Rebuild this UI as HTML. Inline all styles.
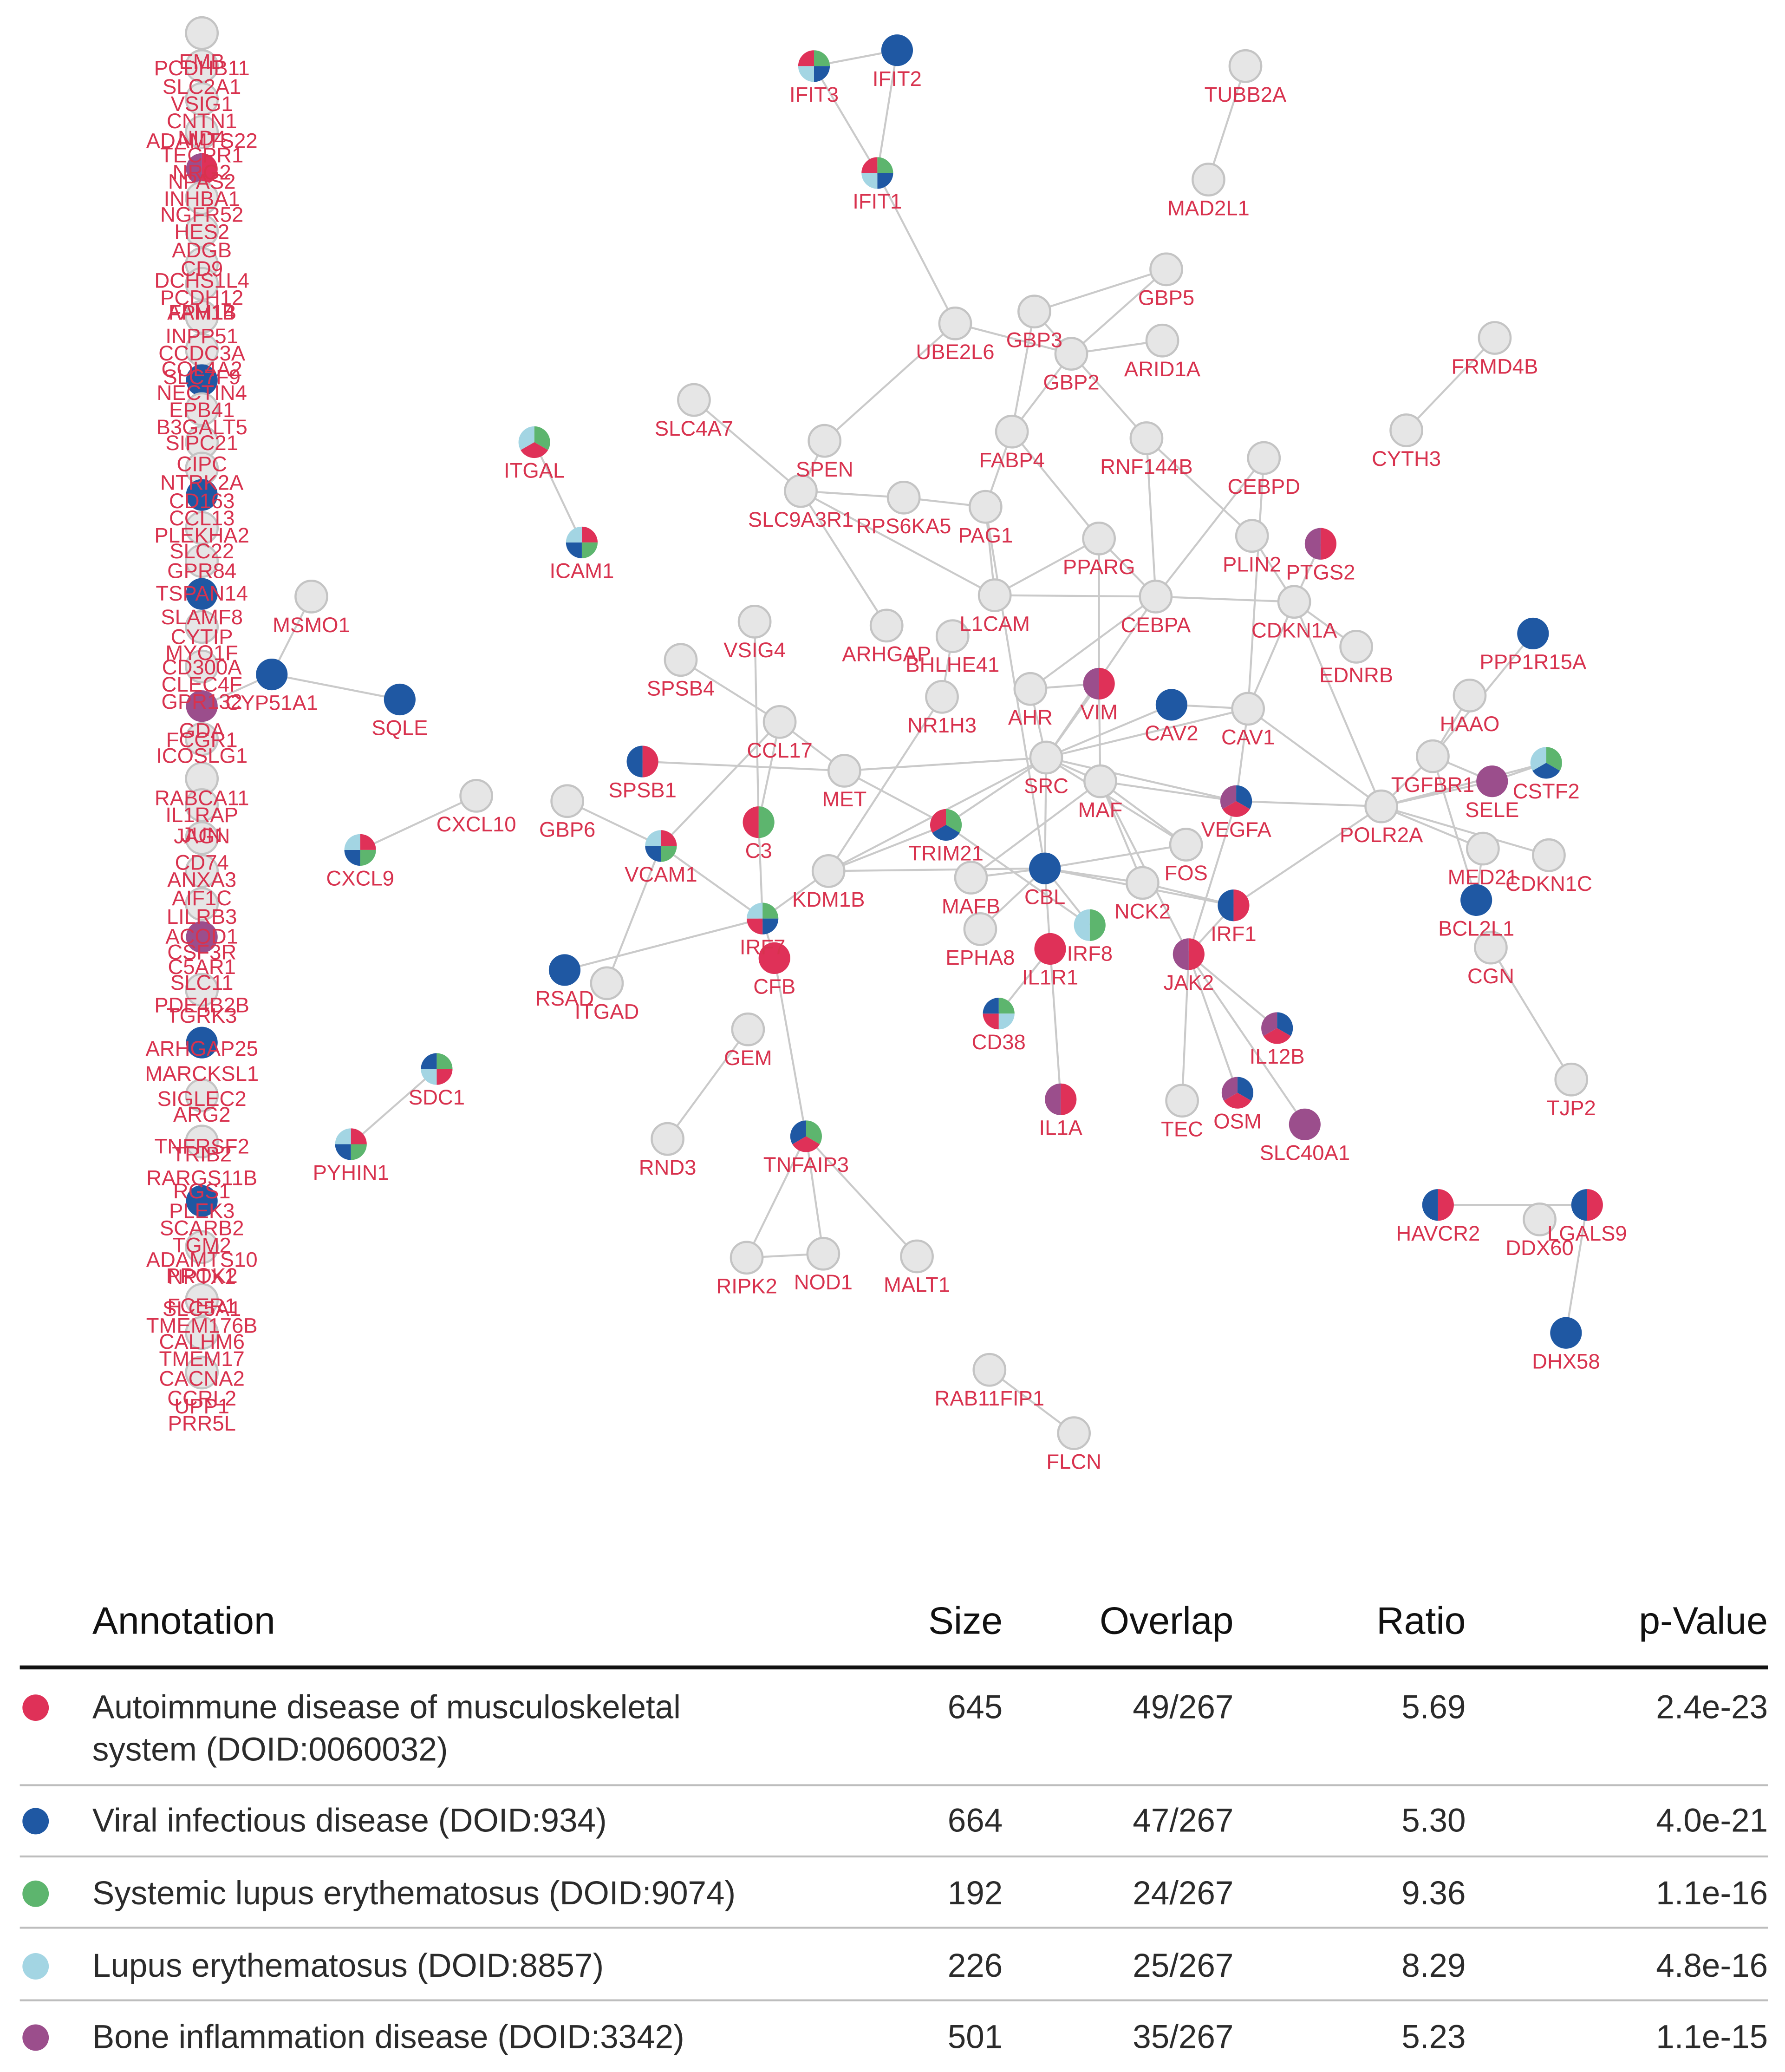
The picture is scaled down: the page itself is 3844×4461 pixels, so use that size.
<!DOCTYPE html>
<html><head><meta charset="utf-8">
<style>
html,body{margin:0;padding:0;background:#fff;}
svg{display:block;}
</style></head>
<body>
<svg id="chart" xmlns="http://www.w3.org/2000/svg" width="3844" height="4461" viewBox="0 0 1353 1570">
<rect width="1353" height="1570" fill="#fff"/>
<g id="edges"></g>
<g id="colnodes"></g>
<g id="nodes"></g>
<g id="collabels"></g>
<g id="labels"></g>
<g id="table"></g>
</svg>
<script>
const COLORS = {r:'#df3158', b:'#1f58a3', g:'#5db56e', l:'#a3d5e3', p:'#9b4e8c'};
const nodeNames = ['IFIT3','IFIT2','IFIT1','TUBB2A','MAD2L1','GBP5','UBE2L6','GBP3','GBP2','ARID1A','FRMD4B','CYTH3','SLC4A7','ITGAL','SPEN','FABP4','RNF144B','CEBPD','SLC9A3R1','RPS6KA5','PAG1','PPARG','PLIN2','PTGS2','ICAM1','L1CAM','CEBPA','CDKN1A','MSMO1','VSIG4','ARHGAP','BHLHE41','EDNRB','PPP1R15A','SPSB4','CYP51A1','SQLE','NR1H3','AHR','VIM','CAV2','CAV1','HAAO','CCL17','SPSB1','MET','SRC','MAF','TGFBR1','SELE','CSTF2','CXCL10','GBP6','C3','VEGFA','POLR2A','CXCL9','VCAM1','TRIM21','FOS','MED21','CDKN1C','KDM1B','CBL','MAFB','NCK2','IRF1','BCL2L1','IRF7','EPHA8','IRF8','IL1R1','CFB','JAK2','RSAD','ITGAD','CGN','GEM','CD38','IL12B','SDC1','TJP2','IL1A','TEC','OSM','SLC40A1','PYHIN1','RND3','TNFAIP3','HAVCR2','DDX60','LGALS9','RIPK2','NOD1','MALT1','DHX58','RAB11FIP1','FLCN'];
const nodeX = [617,680,665,944,916,884,724,784,812,881,1133,1066,526,405,625,767,869,958,607,685,747,833,949,1001,441,754,876,981,236,572,672,722,1028,1162,516,206,303,714,781,833,888,946,1114,591,487,640,793,834,1086,1131,1172,361,430,575,937,1047,273,501,717,899,1124,1174,628,792,736,866,935,1119,578,743,826,796,587,901,428,460,1130,567,757,968,331,1191,804,896,938,989,266,506,611,1090,1167,1203,566,624,695,1187,750,814];
const nodeY = [50,38,131,50,136,204,245,236,268,258,256,326,303,335,334,327,332,347,372,377,384,408,406,412,411,451,452,456,452,471,474,482,490,480,500,511,530,528,522,518,534,537,527,547,577,584,574,592,573,592,578,603,607,623,607,611,644,641,625,640,643,648,660,658,665,669,686,682,696,704,701,719,726,723,735,745,718,780,768,779,810,818,833,834,828,852,867,863,861,913,924,913,953,950,952,1010,1038,1086];
const nodeCats = ['gblr','b','gblr','','','','','','','','','','','grl','','','','','','','','','','rp','rgbl','','','','','','','','','b','','b','b','','','rp','b','','','','rb','','','','','p','gbl','','','gr','brp','','rgbl','rgbl','gbr','','','','','b','','','rb','b','gbrl','','gl','r','r','rp','b','','','','glrb','brp','grlb','','rp','','brp','p','rgbl','','grb','rb','','rb','','','','b','',''];
const edgePairs = [['IFIT3','IFIT2'],['IFIT3','IFIT1'],['IFIT2','IFIT1'],['IFIT1','UBE2L6'],['TUBB2A','MAD2L1'],['GBP5','GBP3'],['GBP5','GBP2'],['UBE2L6','GBP2'],['UBE2L6','SPEN'],['GBP3','FABP4'],['GBP3','RNF144B'],['GBP2','FABP4'],['GBP2','ARID1A'],['FRMD4B','CYTH3'],['SLC4A7','SLC9A3R1'],['ITGAL','ICAM1'],['SPEN','SLC9A3R1'],['FABP4','PAG1'],['FABP4','PPARG'],['RNF144B','PLIN2'],['RNF144B','CEBPA'],['SLC9A3R1','RPS6KA5'],['RPS6KA5','PAG1'],['SLC9A3R1','L1CAM'],['SLC9A3R1','ARHGAP'],['PAG1','L1CAM'],['PAG1','CBL'],['PPARG','CEBPA'],['PPARG','VIM'],['PPARG','L1CAM'],['CEBPD','CEBPA'],['CEBPD','CAV1'],['PLIN2','CDKN1A'],['PTGS2','CDKN1A'],['CEBPA','CDKN1A'],['CEBPA','L1CAM'],['CEBPA','SRC'],['CEBPA','AHR'],['CDKN1A','CAV1'],['CDKN1A','POLR2A'],['EDNRB','CDKN1A'],['MSMO1','CYP51A1'],['CYP51A1','SQLE'],['VSIG4','C3'],['SPSB4','CCL17'],['BHLHE41','NR1H3'],['NR1H3','KDM1B'],['AHR','VIM'],['AHR','SRC'],['VIM','SRC'],['VIM','MAF'],['CAV2','SRC'],['CAV2','CAV1'],['CAV1','SRC'],['CAV1','VEGFA'],['CAV1','POLR2A'],['HAAO','TGFBR1'],['PPP1R15A','TGFBR1'],['CCL17','MET'],['CCL17','VCAM1'],['SPSB1','MET'],['MET','SRC'],['MET','TRIM21'],['SRC','CBL'],['SRC','MAF'],['SRC','VEGFA'],['SRC','FOS'],['SRC','TRIM21'],['SRC','KDM1B'],['MAF','VEGFA'],['MAF','FOS'],['MAF','MAFB'],['MAF','NCK2'],['MAF','JAK2'],['TGFBR1','POLR2A'],['TGFBR1','SELE'],['SELE','CSTF2'],['SELE','POLR2A'],['POLR2A','CSTF2'],['POLR2A','MED21'],['POLR2A','CDKN1C'],['POLR2A','VEGFA'],['POLR2A','IRF1'],['MED21','BCL2L1'],['TGFBR1','BCL2L1'],['CXCL10','CXCL9'],['GBP6','VCAM1'],['C3','CCL17'],['C3','IRF7'],['VCAM1','IRF7'],['VCAM1','ITGAD'],['TRIM21','IRF8'],['TRIM21','KDM1B'],['CBL','NCK2'],['CBL','IRF1'],['CBL','KDM1B'],['CBL','IRF8'],['CBL','IL1R1'],['CBL','EPHA8'],['CBL','MAFB'],['CBL','FOS'],['IRF7','RSAD'],['IRF7','KDM1B'],['IRF7','CFB'],['IRF1','JAK2'],['IRF1','NCK2'],['VEGFA','JAK2'],['JAK2','IL12B'],['JAK2','OSM'],['JAK2','TEC'],['JAK2','SLC40A1'],['IL1R1','IL1A'],['IL1R1','CD38'],['CGN','TJP2'],['GEM','RND3'],['CFB','TNFAIP3'],['TNFAIP3','RIPK2'],['TNFAIP3','NOD1'],['TNFAIP3','MALT1'],['RIPK2','NOD1'],['SDC1','PYHIN1'],['HAVCR2','LGALS9'],['LGALS9','DHX58'],['RAB11FIP1','FLCN']];
const colNodeY = [25,50,75,100,128,150,175,200,215,240,265,288,310,335,355,375,400,425,450,475,505,535,560,590,610,635,660,685,710,750,790,830,865,910,945,985,1010,1040];
const colNodeCats = ['','','','','rp','','','','','','','b','','','','b','','','b','','','p','','','','','','','p','','b','','','b','','','',''];
const colLabels = ['EMB','PCDHB11','SLC2A1','VSIG1','CNTN1','NID4','ADAMTS22','TECPR1','NRG2','NPAS2','INHBA1','NGFR52','HES2','ADGB','CD9','DCHS1L4','PCDH12','FAM14','APH1B','INPP51','CCDC3A','COL4A2','SLC7F9','NECTIN4','EPB41','B3GALT5','SIPC21','CIPC','NTRK2A','CD163','CCL13','PLEKHA2','SLC22','GPR84','TSPAN14','SLAMF8','CYTIP','MYO1F','CD300A','CLEC4F','GPR132','GDA','FCGR1','ICOSLG1','RABCA11','IL1RAP','JUN','JAGN','CD74','ANXA3','AIF1C','LILRB3','ACOD1','CSF3R','C5AR1','SLC11','PDE4B2B','TGRK3','ARHGAP25','MARCKSL1','SIGLEC2','ARG2','TNFRSF2','TRIB2','RARGS11B','RGS1','PLEK3','SCARB2','TGM2','ADAMTS10','PROK2','NPTX1','FCER1','SLC5A1','TMEM176B','CALHM6','TMEM17','CACNA2','CCRL2','UPP1','PRR5L'];
const colLabelY = [47,52,66,79,92,105,107,118,131,138,151,163,176,190,204,213,226,237,237,255,268,280,286,298,311,324,336,352,366,380,393,406,418,433,450,468,483,495,506,519,532,554,561,573,605,618,633,634,654,667,681,695,710,722,733,745,762,770,795,814,833,845,869,875,893,903,918,931,944,955,967,968,990,992,1005,1017,1030,1045,1060,1066,1079];
const tableAnno = [['Autoimmune disease of musculoskeletal','system (DOID:0060032)'],['Viral infectious disease (DOID:934)'],['Systemic lupus erythematosus (DOID:9074)'],['Lupus erythematosus (DOID:8857)'],['Bone inflammation disease (DOID:3342)']];
const tableSize = ['645','664','192','226','501'];
const tableOverlap = ['49/267','47/267','24/267','25/267','35/267'];
const tableRatio = ['5.69','5.30','9.36','8.29','5.23'];
const tablePval = ['2.4e-23','4.0e-21','1.1e-16','4.8e-16','1.1e-15'];
const tableColors = ['r','b','g','l','p'];

const NS = 'http://www.w3.org/2000/svg';
const R = 12;
function mk(tag, attrs){const e=document.createElementNS(NS,tag);for(const k in attrs)e.setAttribute(k,attrs[k]);return e;}
const gE=document.getElementById('edges'), gN=document.getElementById('nodes'), gL=document.getElementById('labels');
const gCN=document.getElementById('colnodes'), gCL=document.getElementById('collabels'), gT=document.getElementById('table');
const idx={}; nodeNames.forEach((n,i)=>idx[n]=i);

function drawPie(g, cx, cy, cats){
  if(!cats){
    const c=mk('circle',{cx:cx,cy:cy,r:R,fill:'#e6e6e6',stroke:'#c4c4c4','stroke-width':1.6});
    
    
    g.appendChild(c); return;
  }
  const n=cats.length;
  if(n===1){
    const c=mk('circle',{cx:cx,cy:cy,r:R,fill:COLORS[cats[0]]});
    
    
    g.appendChild(c); return;
  }
  for(let k=0;k<n;k++){
    const a0=-Math.PI/2+2*Math.PI*k/n, a1=-Math.PI/2+2*Math.PI*(k+1)/n;
    const x0=cx+R*Math.cos(a0),y0=cy+R*Math.sin(a0),x1=cx+R*Math.cos(a1),y1=cy+R*Math.sin(a1);
    const large=(a1-a0)>Math.PI?1:0;
    const p=mk('path',{d:`M${cx},${cy}L${x0},${y0}A${R},${R} 0 ${large} 1 ${x1},${y1}Z`,fill:COLORS[cats[k]]});
    
    
    g.appendChild(p);
  }
}

edgePairs.forEach(([a,b])=>{
  const i=idx[a], j=idx[b];
  const l=mk('line',{x1:nodeX[i],y1:nodeY[i],x2:nodeX[j],y2:nodeY[j],stroke:'#cacaca','stroke-width':1.5});
  
  
  gE.appendChild(l);
});
{const i=idx['CYP51A1'];const l=mk('line',{x1:nodeX[i],y1:nodeY[i],x2:153,y2:535,stroke:'#cacaca','stroke-width':1.5});


gE.appendChild(l);}

colNodeY.forEach((y,k)=>{
  const g=mk('g',{});
  
  
  drawPie(g,153,y,colNodeCats[k]);
  gCN.appendChild(g);
});
colLabels.forEach((t,k)=>{
  const tx=mk('text',{x:153,y:colLabelY[k]+5,'text-anchor':'middle','font-family':'Liberation Sans, sans-serif','font-size':16,fill:'#d8324e'});
  tx.textContent=t;
  
  
  gCL.appendChild(tx);
});

nodeNames.forEach((n,i)=>{
  const g=mk('g',{});
  
  
  drawPie(g,nodeX[i],nodeY[i],nodeCats[i]);
  gN.appendChild(g);
  const t=mk('text',{x:nodeX[i],y:nodeY[i]+27,'text-anchor':'middle','font-family':'Liberation Sans, sans-serif','font-size':16,fill:'#d8324e'});
  t.textContent=n;
  
  
  gL.appendChild(t);
});

const F='Liberation Sans, sans-serif';
function txt(x,y,s,size,anchor,fill,weight){const t=mk('text',{x:x,y:y,'font-family':F,'font-size':size,'text-anchor':anchor,fill:fill,'font-weight':weight||'normal'});t.textContent=s;gT.appendChild(t);return t;}
const headers=[['Annotation',70,'start'],['Size',760,'end'],['Overlap',935,'end'],['Ratio',1111,'end'],['p-Value',1340,'end']];
headers.forEach(h=>{const t=txt(h[1],1238,h[0],29,h[2],'#111','500');});
{const l=mk('rect',{x:15,y:1262,width:1325,height:3,fill:'#111'});gT.appendChild(l);}
const rowY=[1302,1388,1443,1498,1552];
const lineY=[1352,1406,1460,1515];
tableAnno.forEach((a,k)=>{
  const y=rowY[k];
  const c=mk('circle',{cx:27,cy:y-8,r:10,fill:COLORS[tableColors[k]]});
  
  
  gT.appendChild(c);
  a.forEach((s,m)=>{const t=txt(70,y+m*32,s,25,'start','#2b2b2b');});
  let t=txt(760,y,tableSize[k],25,'end','#2b2b2b');
  t=txt(935,y,tableOverlap[k],25,'end','#2b2b2b');
  t=txt(1111,y,tableRatio[k],25,'end','#2b2b2b');
  t=txt(1340,y,tablePval[k],25,'end','#2b2b2b');
  if(k<lineY.length){const l=mk('rect',{x:15,y:lineY[k],width:1325,height:1.5,fill:'#bdbdbd'});gT.appendChild(l);}
});
</script>
</body></html>
